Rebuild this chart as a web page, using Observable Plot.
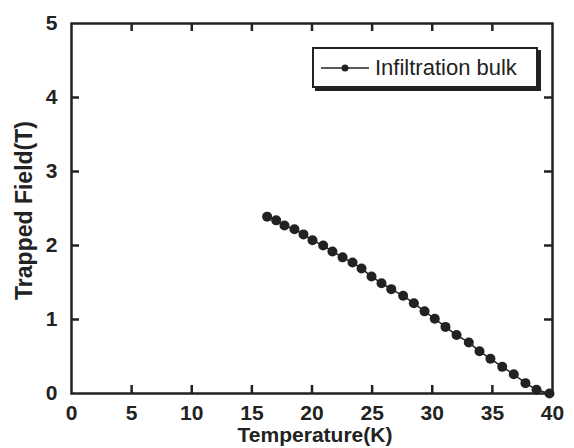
<!DOCTYPE html>
<html>
<head>
<meta charset="utf-8">
<script src="https://cdn.jsdelivr.net/npm/d3@7"></script>
<script src="https://cdn.jsdelivr.net/npm/@observablehq/plot@0.6"></script>
<style>
  body { margin: 0; background: #fff; }
  #wrap { position: relative; width: 574px; height: 448px; font-family: "Liberation Sans", Arial, sans-serif; color: #222; }
  #legend {
    position: absolute; left: 312px; top: 47px; width: 222px; height: 37px;
    border: 2px solid #222; background: #fff; box-shadow: 3px 3px 0 #222;
    display: flex; align-items: center; box-sizing: content-box;
  }
  #legend svg { margin-left: 7px; margin-right: 6px; }
  #legend span { font-size: 22px; color: #222; white-space: nowrap; }
</style>
</head>
<body>
<div id="wrap"></div>
<script>
// Data
const temperature = [16.27, 17.02, 17.71, 18.54, 19.29, 20.04, 20.93, 21.70, 22.54, 23.37,
  24.12, 24.95, 25.78, 26.59, 27.58, 28.47, 29.36, 30.21, 31.10, 32.02,
  33.04, 33.93, 34.84, 35.82, 36.78, 37.75, 38.67, 39.75];
const trappedField = [2.39, 2.34, 2.27, 2.22, 2.15, 2.07, 2.00, 1.92, 1.84, 1.77,
  1.69, 1.58, 1.49, 1.41, 1.32, 1.22, 1.11, 1.01, 0.90, 0.79,
  0.69, 0.57, 0.47, 0.36, 0.26, 0.14, 0.05, 0.00];
const xTicks = [0, 5, 10, 15, 20, 25, 30, 35, 40];
const yTicks = [0, 1, 2, 3, 4, 5];
const seriesName = "Infiltration bulk";
const xTitle = "Temperature(K)";
const yTitle = "Trapped Field(T)";

const data = temperature.map((t, i) => ({t, b: trappedField[i]}));
const ink = "#222";
const intFmt = d => String(d);

const W = 574, H = 448, ML = 71, MR = 22, MT = 23, MB = 55;
const frameW = W - ML - MR, frameH = H - MT - MB, tickLen = 8;
const inner = xTicks.slice(1, -1), innerY = yTicks.slice(1, -1);

const chart = Plot.plot({
  width: W, height: H,
  marginLeft: ML, marginRight: MR, marginTop: MT, marginBottom: MB,
  style: {fontFamily: "'Liberation Sans', Arial, sans-serif", background: "#fff", color: ink},
  x: {domain: [0, 40]},
  y: {domain: [0, 5]},
  marks: [
    // inward tick marks on all four sides
    Plot.tickX(inner, {x: d => d, insetTop: frameH - tickLen, stroke: ink, strokeWidth: 2.5}),
    Plot.tickX(inner, {x: d => d, insetBottom: frameH - tickLen, stroke: ink, strokeWidth: 2.5}),
    Plot.tickY(innerY, {y: d => d, insetRight: frameW - tickLen, stroke: ink, strokeWidth: 2.5}),
    Plot.tickY(innerY, {y: d => d, insetLeft: frameW - tickLen, stroke: ink, strokeWidth: 2.5}),
    // tick labels
    Plot.axisX({anchor: "bottom", ticks: xTicks, tickSize: 0, tickPadding: 12, tickFormat: intFmt, fontSize: 21, fontWeight: "bold", label: null}),
    Plot.axisY({anchor: "left", ticks: yTicks, tickSize: 0, tickPadding: 14, tickFormat: intFmt, fontSize: 21, fontWeight: "bold", label: null}),
    Plot.frame({stroke: ink, strokeWidth: 2.5}),
    Plot.line(data, {x: "t", y: "b", stroke: ink, strokeWidth: 1.5}),
    Plot.dot(data, {x: "t", y: "b", r: 5, fill: ink, stroke: "none"}),
    Plot.text([xTitle], {frameAnchor: "bottom", textAnchor: "middle", lineAnchor: "middle", dy: 42, dx: 3, fontSize: 21, fontWeight: "bold", fill: ink}),
    Plot.text([yTitle], {frameAnchor: "left", textAnchor: "middle", lineAnchor: "middle", dx: -47, dy: 2, rotate: -90, fontSize: 23, fontWeight: "bold", fill: ink})
  ]
});

const wrap = document.getElementById("wrap");
wrap.appendChild(chart);

const legend = document.createElement("div");
legend.id = "legend";
legend.innerHTML = `<svg width="48" height="10"><line x1="0" y1="5" x2="48" y2="5" stroke="${ink}" stroke-width="1.5"/><circle cx="24" cy="5" r="3.5" fill="${ink}"/></svg><span></span>`;
legend.querySelector("span").textContent = seriesName;
wrap.appendChild(legend);
</script>
</body>
</html>
